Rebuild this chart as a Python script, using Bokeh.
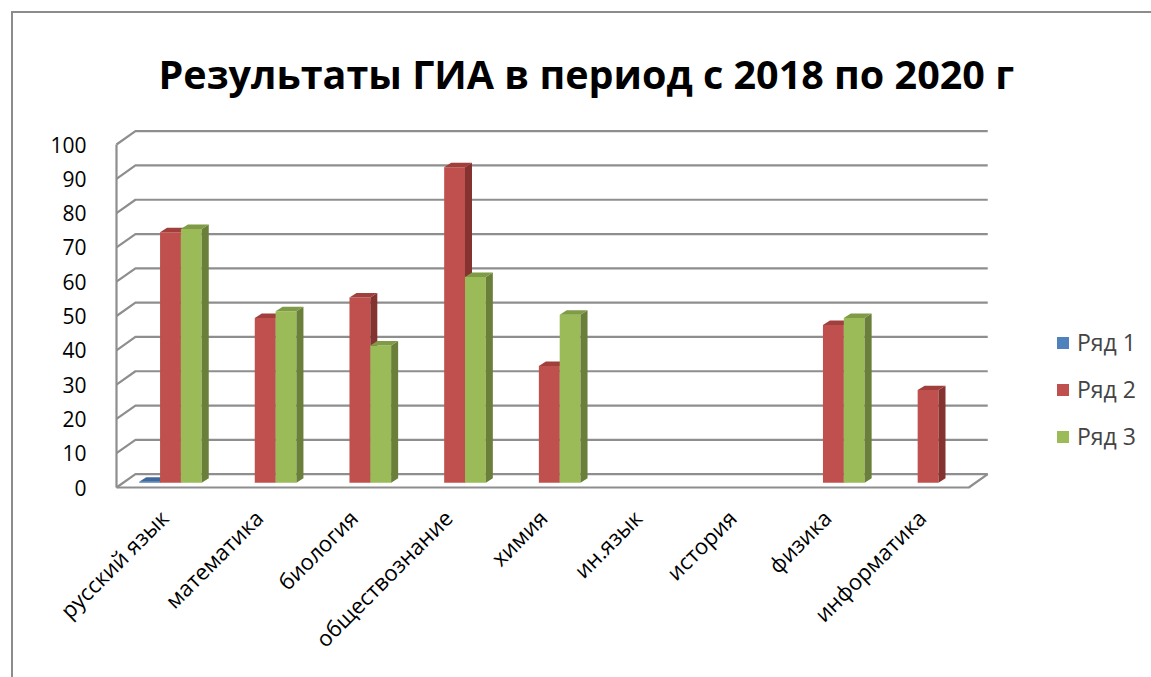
import math
from bokeh.plotting import figure
from bokeh.models import Range1d, FixedTicker, Legend, LegendItem, Title, ColumnDataSource
from bokeh.embed import file_html
from bokeh.resources import INLINE

categories = ["русский язык", "математика", "биология", "обществознание", "химия",
              "ин.язык", "история", "физика", "информатика"]
series_names = ["Ряд 1", "Ряд 2", "Ряд 3"]
row1 = [0.3, None, None, None, None, None, None, None, None]
row2 = [73, 48, 54, 92, 34, None, None, 46, 27]
row3 = [74, 50, 40, 60, 49, None, None, 48, None]
y_ticks = [0, 10, 20, 30, 40, 50, 60, 70, 80, 90, 100]

front_cols = ["#4F81BD", "#C0504D", "#9BBB59"]
side_cols = ["#385D8A", "#843331", "#6A7F3A"]
top_cols = ["#41689A", "#A13F3C", "#7F9B45"]

# 3D geometry (data units)
DX, DY = 0.2, 3.9          # wall depth
BX, BY = 0.07, 1.4         # bar placement inside depth
BW = 0.22                  # bar width
SX, SY = 0.074, 1.3        # bar side / top depth

OX, OY = 13, 13
FL, FT, FW, FH = 100, 120, 1151 - 100, 375
PXU = 94.7
x0 = -0.5 - 16 / PXU
p = figure(frame_width=FW, frame_height=FH, output_backend="svg", toolbar_location=None,
           x_range=Range1d(x0, x0 + FW / PXU),
           y_range=Range1d(-2.332, 107.0),
           min_border_left=FL - OX, min_border_right=0, min_border_top=FT - OY,
           min_border_bottom=677 - OY - (FT - OY) - FH)
p.margin = (0, 0, 0, 0)
p.styles = {"border-left": "2px solid #8c8c8c", "border-top": "2px solid #8c8c8c",
            "margin-left": "11px", "margin-top": "11px"}
p.outline_line_color = None
p.grid.visible = False
p.background_fill_color = "white"

# walls / gridlines
n = len(categories)
gx, gy = [], []
for v in y_ticks:
    gx.append([-0.5, -0.5 + DX, n - 0.5 + DX])
    gy.append([v, v + DY, v + DY])
p.multi_line(gx, gy, line_color="#8e8e8e", line_width=2.2)
p.line([-0.5, -0.5], [0, y_ticks[-1]], line_color="#8e8e8e", line_width=2.2)
p.line([-0.5, n - 0.5, n - 0.5 + DX], [0, 0, DY], line_color="#8e8e8e", line_width=2.2)

legend_items = []
for s, vals in enumerate([row1, row2, row3]):
    xs, tops = [], []
    sx, sy, tx, ty = [], [], [], []
    for i, v in enumerate(vals):
        if v is None:
            continue
        xc = i + BX + (s - 1) * BW
        xs.append(xc)
        tops.append(v + BY)
        l, r = xc - BW / 2, xc + BW / 2
        b, t = BY, v + BY
        sx.append([r, r + SX, r + SX, r])
        sy.append([b, b + SY, t + SY, t])
        tx.append([l, r, r + SX, l + SX])
        ty.append([t, t, t + SY, t + SY])
    src = ColumnDataSource(dict(x=xs, top=tops))
    rr = p.vbar(x="x", top="top", bottom=BY, width=BW, source=src,
                fill_color=front_cols[s], line_color=None)
    p.patches(sx, sy, fill_color=side_cols[s], line_color=None)
    p.patches(tx, ty, fill_color=top_cols[s], line_color=None)
    legend_items.append(LegendItem(label=series_names[s], renderers=[rr]))

p.xaxis.ticker = FixedTicker(ticks=list(range(n)))
p.xaxis.major_label_overrides = {i: c for i, c in enumerate(categories)}
p.xaxis.major_label_orientation = math.pi / 4
p.xaxis.axis_line_color = None
p.xaxis.major_tick_line_color = None
p.xaxis.minor_tick_line_color = None
p.xaxis.major_label_text_font = "Open Sans"
p.xaxis.major_label_text_font_size = "22px"
p.xaxis.major_label_text_color = "black"
p.xaxis.major_label_standoff = 12

p.yaxis.ticker = FixedTicker(ticks=y_ticks)
p.yaxis.axis_line_color = None
p.yaxis.major_tick_line_color = None
p.yaxis.minor_tick_line_color = None
p.yaxis.major_label_text_font = "Open Sans"
p.yaxis.major_label_text_font_size = "21px"
p.yaxis.major_label_text_color = "black"
p.yaxis.major_label_standoff = 8

legend = Legend(items=legend_items, location=(955, 43), glyph_width=15, glyph_height=15,
                label_text_font="Open Sans", label_text_font_size="23px",
                spacing=15, border_line_color=None, background_fill_alpha=0,
                margin=0, padding=0, label_standoff=7)
p.add_layout(legend)

p.title = Title(text="Результаты ГИА в период с 2018 по 2020 г", align="left",
                text_font="Open Sans", text_font_size="39.5px", text_font_style="bold",
                text_color="black", offset=58, standoff=40)

open("out.html", "w").write(file_html(p, INLINE))
